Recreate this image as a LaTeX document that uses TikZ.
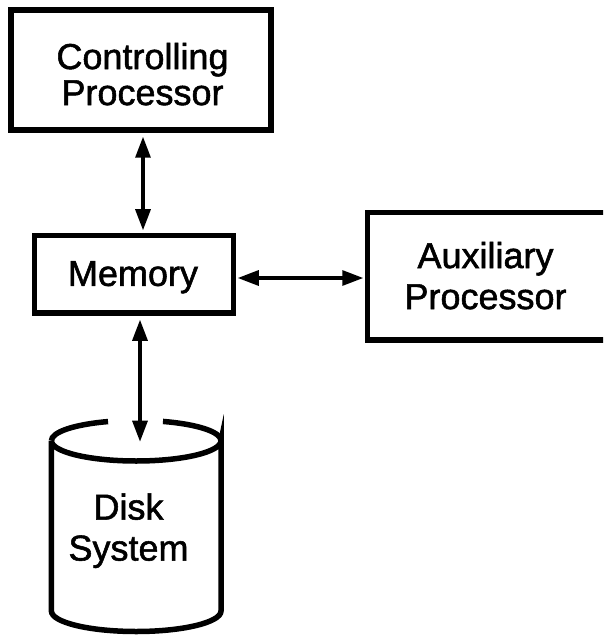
\documentclass[tikz,border=0pt]{standalone}
\usepackage{fontspec}
\setmainfont{Liberation Sans}
\newfontfamily\lettering{Liberation Sans}[FakeBold=1.5]
\usetikzlibrary{arrows.meta}
\begin{document}
\begin{tikzpicture}[x=1pt,y=-1pt,
  box/.style={draw, line width=5.5pt, inner sep=0pt},
  lab/.style={font=\lettering\fontsize{36}{36}\selectfont, align=center, inner sep=0pt, text depth=0pt},
  labwide/.style={lab, font=\lettering\fontsize{36}{41}\selectfont},
  cyl/.style={line width=5.5pt},
  arr/.style={line width=3.2pt, >={Triangle[length=21pt,width=15pt]}, <->}]
\useasboundingbox (0,0) rectangle (603,636);
\clip (0,0) rectangle (603,636);
% boxes
\node[box, minimum width=260pt, minimum height=120pt] (cp) at (141,70) {};
\node[box, minimum width=199pt, minimum height=77.5pt] (mem) at (134,274.25) {};
\node[box, minimum width=280pt, minimum height=127.3pt] (aux) at (507.5,276.35) {};
% texts
\node[lab] (cpt) at (142.5,74) {Controlling\\Processor};
\node[lab] (memt) at (133,273.5) {Memory};
\node[labwide] (auxt) at (485.5,275.5) {Auxiliary\\Processor};
\node[labwide] (diskt) at (128.5,527) {Disk\\System};
% disk cylinder
\draw[cyl] (51.4,440.7) -- (51.4,611)
  arc[start angle=180, end angle=0, x radius=84.8, y radius=20.5]
  -- (221,440.7)
  arc[start angle=0, end angle=180, x radius=84.8, y radius=20.3];
\draw[cyl] (51.4,440.7) arc[start angle=180, end angle=250.6, x radius=84.8, y radius=20.3];
\draw[cyl] (221,440.7) arc[start angle=360, end angle=288.4, x radius=84.8, y radius=20.3];
\coordinate (disktop) at (140,441.7);
% connectors
\draw[arr, shorten <=4pt, shorten >=2.5pt] ([xshift=2pt]cp.south) -- ([xshift=9pt]mem.north);
\draw[arr, shorten <=1.5pt, shorten >=1.5pt] ([yshift=-3.75pt]mem.east) -- ([yshift=-3.75pt]mem.east -| aux.west);
\draw[arr, shorten <=4pt] ([xshift=6pt]mem.south) -- (disktop);
\end{tikzpicture}
\end{document}
